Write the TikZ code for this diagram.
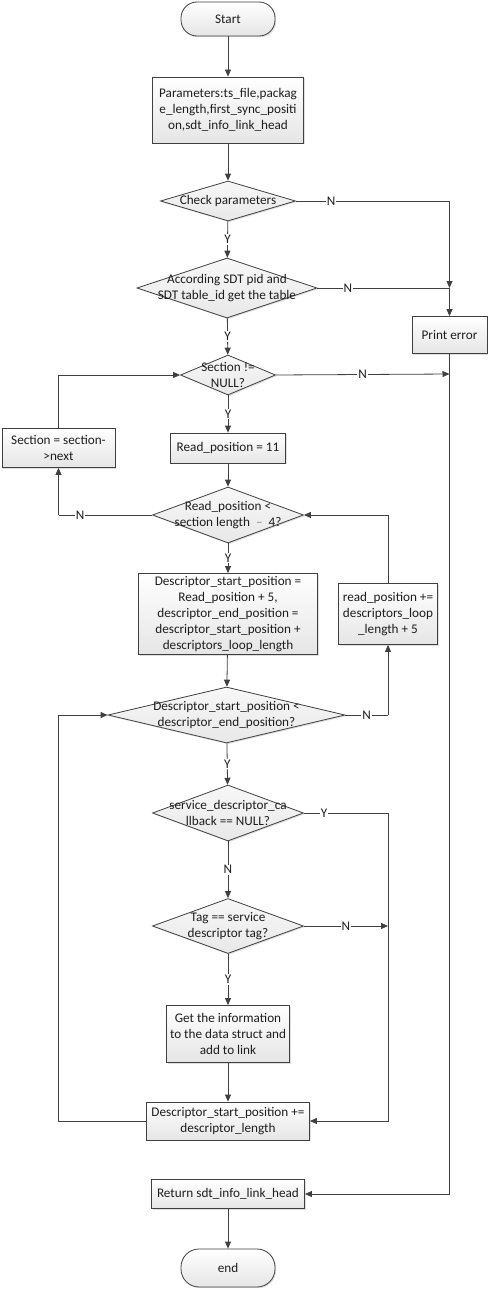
\documentclass[tikz,border=0pt]{standalone}
\usepackage{fontspec}
\setmainfont{Carlito}
\usetikzlibrary{shapes.geometric,arrows.meta,shadows}
\definecolor{ln}{HTML}{404040}
\definecolor{tx}{HTML}{1E1E1E}
\begin{document}
\begin{tikzpicture}[x=1pt,y=-1pt,
  base/.style={draw=ln, line width=0.8pt, text=tx, inner sep=1pt, align=center,
    font=\fontsize{13.2}{16}\selectfont, top color=white, bottom color=black!10,
    drop shadow={opacity=0.25, shadow xshift=1.2pt, shadow yshift=-1.2pt}},
  procbox/.style={base, rectangle},
  term/.style={base, rectangle, rounded corners=16pt},
  dia/.style={base, diamond, inner sep=0pt, top color=black!3, bottom color=black!9},
  dtext/.style={inner sep=0pt, align=center, text=tx, font=\fontsize{13.2}{16}\selectfont},
  arr/.style={draw=ln, line width=0.8pt, -{Triangle[length=7pt,width=6pt]}},
  ln/.style={draw=ln, line width=0.8pt},
  lab/.style={fill=white, inner sep=1pt, text=tx, font=\fontsize{13.2}{14}\selectfont}
]
\useasboundingbox[fill=white] (0,0) rectangle (490,1290);

\node[term, minimum width=94pt, minimum height=34pt] (start) at (228,19) {Start};
\node[procbox, minimum width=151pt, minimum height=66pt] (params) at (228,110)
  {Parameters:ts\_file,packag\\e\_length,first\_sync\_positi\\on,sdt\_info\_link\_head};
\node[dia, minimum width=135pt, minimum height=40pt,
  label={[dtext]center:Check parameters}] (check) at (228,201) {};
\node[dia, minimum width=180pt, minimum height=60pt,
  label={[dtext]center:{According SDT pid and\\SDT table\_id get the table}}] (accord) at (227,288) {};
\node[procbox, minimum width=75pt, minimum height=37pt] (perr) at (449.5,335) {Print error};
\node[dia, minimum width=95pt, minimum height=40pt,
  label={[dtext]center:{Section !=\\NULL?}}] (section) at (228,375) {};
\node[procbox, minimum width=115pt, minimum height=30pt] (readpos) at (228,448) {Read\_position = 11};
\node[procbox, minimum width=113pt, minimum height=39pt] (secnext) at (58.5,448) {Section = section-\\>next};
\node[dia, minimum width=151pt, minimum height=56pt,
  label={[dtext]center:{Read\_position <\\section length \ \textcolor{black!45}{–} \ 4?}}] (readdia) at (228,515) {};
\node[procbox, minimum width=179pt, minimum height=81pt] (desc) at (228,614)
  {Descriptor\_start\_position =\\Read\_position + 5,\\descriptor\_end\_position =\\descriptor\_start\_position +\\descriptors\_loop\_length};
\node[procbox, minimum width=99pt, minimum height=61pt] (rpinc) at (388,614)
  {read\_position +=\\descriptors\_loop\\\_length + 5};
\node[dia, minimum width=237pt, minimum height=56pt,
  label={[dtext]center:{Descriptor\_start\_position <\\descriptor\_end\_position?}}] (descdia) at (226.5,715) {};
\node[dia, minimum width=151pt, minimum height=56pt,
  label={[dtext]center:{service\_descriptor\_ca\\llback == NULL?}}] (svc) at (228,813) {};
\node[dia, minimum width=151pt, minimum height=55pt,
  label={[dtext]center:{Tag == service\\descriptor tag?}}] (tag) at (228,926) {};
\node[procbox, minimum width=123pt, minimum height=57pt] (getinfo) at (228,1034)
  {Get the information\\to the data struct and\\add to link};
\node[procbox, minimum width=163pt, minimum height=38pt] (dsinc) at (228,1121)
  {Descriptor\_start\_position +=\\descriptor\_length};
\node[procbox, minimum width=153pt, minimum height=29pt] (ret) at (228,1194)
  {Return sdt\_info\_link\_head};
\node[term, minimum width=94pt, minimum height=38pt, rounded corners=18pt] (endn) at (228,1268) {end};

\coordinate (jc) at (449.5,201);
\coordinate (jn) at (449.5,288);
\coordinate (jsec) at (449.5,374);
\coordinate (jleft) at (58.5,515);
\coordinate (jrp) at (388,715);
\coordinate (jsvc) at (388,813);
\coordinate (jtag) at (388,926);
\coordinate (jds) at (388,1121);
\coordinate (jloop) at (58.5,1121);
\coordinate (jloop2) at (58.5,715);
\coordinate (jret) at (449.5,1194);

\draw[arr] (start) -- (params);
\draw[arr] (params) -- (check);
\draw[arr] (check) -- node[lab]{Y} (accord);
\draw[ln] (check.east) -- node[lab, pos=0.23]{N} (jc);
\draw[arr] (jc) -- (jn);
\draw[arr] (jn) -- (perr);
\draw[ln] (accord.east) -- node[lab, pos=0.23]{N} (jn);
\draw[arr] (accord) -- node[lab]{Y} (section);
\draw[arr] (section.east) -- node[lab, pos=0.5]{N} (jsec);
\draw[arr] (section) -- node[lab]{Y} (readpos);
\draw[arr] (readpos) -- (readdia);
\draw[ln] (readdia.west) -- node[lab, pos=0.77]{N} (jleft);
\draw[arr] (jleft) -- (secnext);
\draw[arr] (secnext.north) |- (section.west);
\draw[arr] (readdia) -- node[lab]{Y} (desc);
\draw[arr] (desc) -- (descdia);
\draw[ln] (descdia.east) -- node[lab, pos=0.5]{N} (jrp);
\draw[arr] (jrp) -- (rpinc);
\draw[arr] (rpinc.north) |- (readdia.east);
\draw[arr] (descdia) -- node[lab]{Y} (svc);
\draw[ln] (svc.east) -- node[lab, pos=0.24]{Y} (jsvc);
\draw[arr] (jsvc) -- (jds) -- (dsinc.east);
\draw[arr] (svc) -- node[lab]{N} (tag);
\draw[arr] (tag.east) -- node[lab, pos=0.5]{N} (jtag);
\draw[arr] (tag) -- node[lab]{Y} (getinfo);
\draw[arr] (getinfo) -- (dsinc);
\draw[arr] (dsinc.west) -- (jloop) -- (jloop2) -- (descdia.west);
\draw[arr] (perr) -- (jret) -- (ret.east);
\draw[arr] (ret) -- (endn);
\end{tikzpicture}
\end{document}
